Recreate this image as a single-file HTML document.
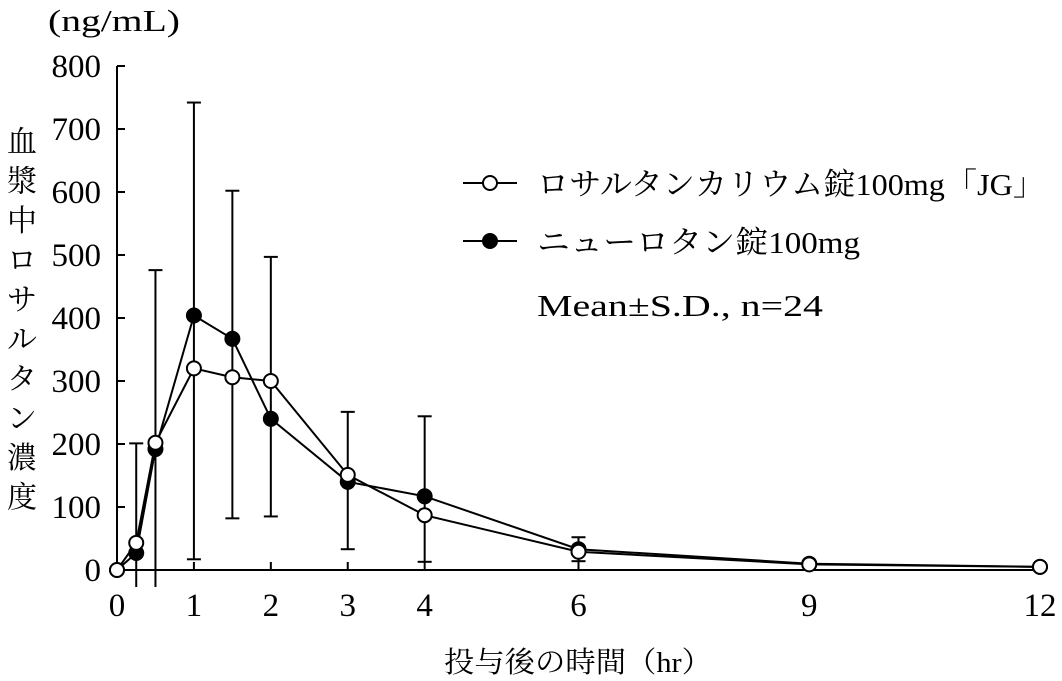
<!DOCTYPE html>
<html><head><meta charset="utf-8"><style>
html,body{margin:0;padding:0;background:#fff;}
svg{display:block;font-family:"Liberation Serif","Noto Serif CJK SC",serif;}
</style></head><body>
<svg id="chart" width="1062" height="681" viewBox="0 0 1062 681">
<g id="axes"></g>
<g id="errs"></g>
<g id="series"></g>
<text x="48" y="31" font-size="31" textLength="132" lengthAdjust="spacingAndGlyphs">(ng/mL)</text>
<g id="ytitle"></g>
<text x="444" y="672" font-size="29" textLength="268" lengthAdjust="spacingAndGlyphs">投与後の時間（hr）</text>
<g>
 <g>
  <line x1="463" y1="183" x2="517" y2="183" stroke="#000" stroke-width="2"/>
  <circle cx="490" cy="183" r="7" fill="#fff" stroke="#000" stroke-width="2"/>
  <text x="537" y="195" font-size="31" textLength="508" lengthAdjust="spacingAndGlyphs">ロサルタンカリウム錠100mg「JG」</text>
 </g>
 <g>
  <line x1="463" y1="241" x2="517" y2="241" stroke="#000" stroke-width="2"/>
  <circle cx="490" cy="241" r="7" fill="#000" stroke="#000" stroke-width="2"/>
  <text x="537" y="253" font-size="31" textLength="323" lengthAdjust="spacingAndGlyphs">ニューロタン錠100mg</text>
 </g>
 <text x="537" y="316" font-size="31" textLength="286" lengthAdjust="spacingAndGlyphs">Mean±S.D., n=24</text>
</g>
</svg>
<script>
const times = [0, 0.25, 0.5, 1, 1.5, 2, 3, 4, 6, 9, 12];
const genericMean = [0, 43, 202, 320, 306, 300, 151, 87, 29, 9, 5];
const brandMean = [0, 27, 192, 404, 367, 240, 140, 117, 33, 10, 5];
const errTimes = [0.25, 0.5, 1, 1.5, 2, 3, 4, 6];
const errUpper = [201, 476, 742, 602, 497, 251, 244, 52];
const errLower = [-27, -27, 17, 82, 85, 33, 13, 14];
const xTicks = [0, 1, 2, 3, 4, 6, 9, 12];
const yTicks = [0, 100, 200, 300, 400, 500, 600, 700, 800];
const yTitleChars = ["血","漿","中","ロ","サ","ル","タ","ン","濃","度"];

const NS = "http://www.w3.org/2000/svg";
const X0 = 117, X1 = 1040, Y0 = 570, Y1 = 66;
function xs(t){ return X0 + t / 12 * (X1 - X0); }
function ys(v){ return Y0 - v / 800 * (Y0 - Y1); }
function mk(tag, attrs, parent){ const e = document.createElementNS(NS, tag); for (const k in attrs) e.setAttribute(k, attrs[k]); parent.appendChild(e); return e; }

const axes = document.getElementById('axes');
let l = mk('line', {x1:X0, y1:Y1, x2:X0, y2:Y0, stroke:'#000','stroke-width':2}, axes);


l = mk('line', {x1:X0, y1:Y0, x2:X1, y2:Y0, stroke:'#000','stroke-width':2}, axes);


yTicks.forEach(v => {
  const y = ys(v);
  const t = mk('line', {x1:X0, y1:y, x2:X0+8, y2:y, stroke:'#000','stroke-width':2}, axes);
  
  
  const tx = mk('text', {x:101, y:y+11, 'font-size':33, 'text-anchor':'end'}, axes);
  tx.textContent = v;
  
  
});
xTicks.forEach(v => {
  const x = xs(v);
  if (v > 0) {
    const t = mk('line', {x1:x, y1:Y0, x2:x, y2:Y0-8, stroke:'#000','stroke-width':2}, axes);
    
    
  }
  const tx = mk('text', {x:x, y:616, 'font-size':33, 'text-anchor':'middle'}, axes);
  tx.textContent = v;
  
  
});
const yt = document.getElementById('ytitle');
yTitleChars.forEach((c, i) => {
  const tx = mk('text', {x:22, y:152 + i*39.5, 'font-size':30, 'text-anchor':'middle'}, yt);
  tx.textContent = c;
  
  
});

const errs = document.getElementById('errs');
errTimes.forEach((t, i) => {
  const x = xs(t), yu = ys(errUpper[i]), yl = ys(errLower[i]);
  const e = mk('line', {x1:x, y1:yu, x2:x, y2:yl, stroke:'#000','stroke-width':2}, errs);
  
  
  mk('line', {x1:x-7, y1:yu, x2:x+7, y2:yu, stroke:'#000','stroke-width':2}, errs);
  if (errLower[i] > 0) mk('line', {x1:x-7, y1:yl, x2:x+7, y2:yl, stroke:'#000','stroke-width':2}, errs);
});

const ser = document.getElementById('series');
function drawSeries(vals, fill, name){
  const g = mk('g', {}, ser);
  
  
  const pts = times.map((t,i) => xs(t) + ',' + ys(vals[i])).join(' ');
  mk('polyline', {points:pts, fill:'none', stroke:'#000', 'stroke-width':2}, g);
  times.forEach((t,i) => {
    const c = mk('circle', {cx:xs(t), cy:ys(vals[i]), r:7, fill:fill, stroke:'#000', 'stroke-width':2}, g);
    
    
  });
}
drawSeries(brandMean, '#000', 'brand-series');
drawSeries(genericMean, '#fff', 'generic-series');
</script>
</body></html>
